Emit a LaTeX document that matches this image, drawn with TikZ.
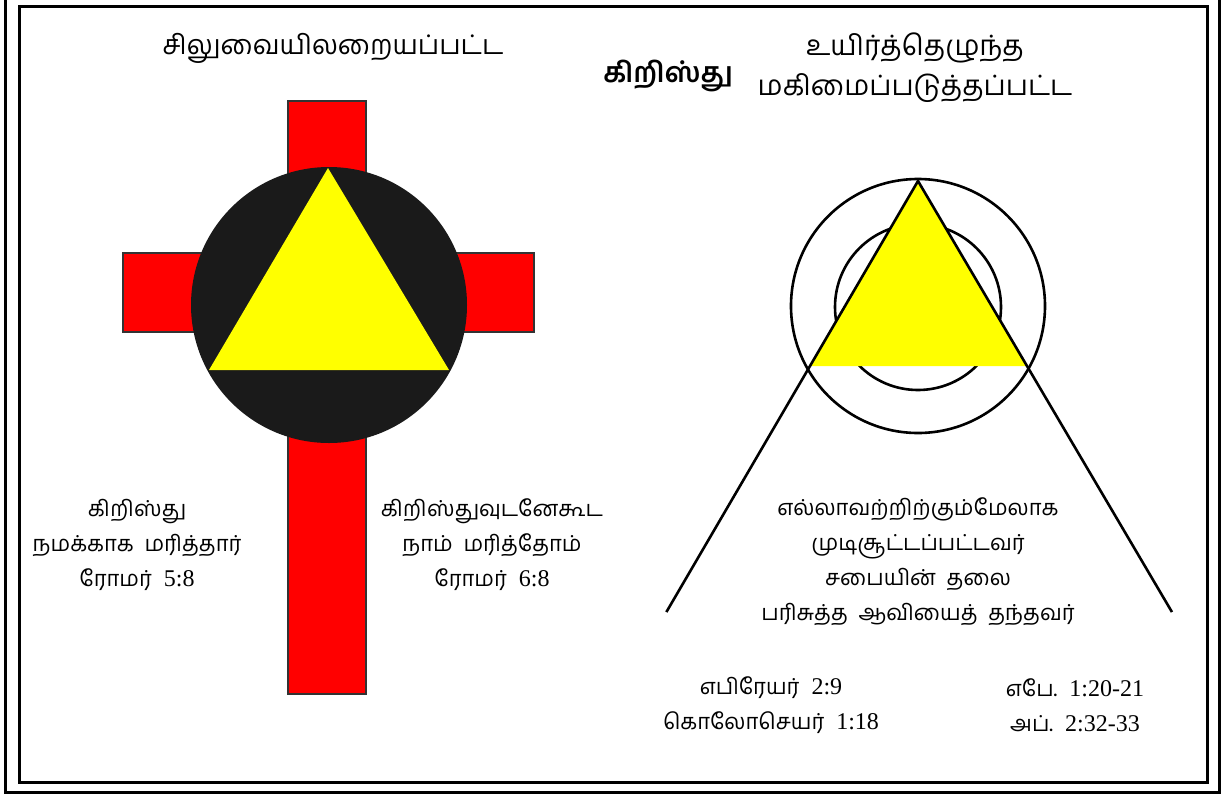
\documentclass[tikz,border=0pt]{standalone}
\usepackage{fontspec}
\setmainfont{Liberation Serif}
\newfontfamily\tamilfont[Script=Tamil]{Hind Madurai}
\usetikzlibrary{positioning, calc}
\definecolor{CrossRed}{RGB}{255, 0, 0}
\definecolor{GloryYellow}{RGB}{255, 255, 0}
\definecolor{DiscBlack}{RGB}{26, 26, 26}
\newcommand{\ta}[1]{{\tamilfont\fontsize{22}{35}\selectfont #1}}

\begin{document}
\begin{tikzpicture}[x=1pt,y=-1pt]
  \path[use as bounding box] (0,0) rectangle (1224,796);
  \tikzset{
    frameline/.style={black, line width=3pt},
    crossbar/.style={fill=CrossRed, draw=black!80, line width=1.2pt},
    ringline/.style={black, line width=2.6pt},
    verse/.style={align=center, font=\fontsize{24}{35}\selectfont},
    heading/.style={align=center, font=\tamilfont\fontsize{27}{40}\selectfont}
  }

  % frames
  \draw[frameline] (5,-6) rectangle (1219,792);
  \draw[frameline] (19,6) rectangle (1207,782);

  % headings
  \node[heading] (titleCross) at (333,48) {சிலுவையிலறையப்பட்ட};
  \node[heading, font=\tamilfont\fontsize{28}{40}\selectfont\bfseries] (titleChrist) at (668,76) {கிறிஸ்து};
  \node[heading, font=\tamilfont\fontsize{28}{40}\selectfont] (titleRisen) at (915,68) {உயிர்த்தெழுந்த\\மகிமைப்படுத்தப்பட்ட};

  % Crucified: cross, disc and triangle
  \draw[crossbar] (288,101) rectangle (366,694);
  \draw[crossbar] (123,253) rectangle (534,332);
  \fill[DiscBlack] (329,305) circle[radius=138];
  \coordinate (crossApex) at (328,168);
  \coordinate (crossBaseL) at (209,370);
  \coordinate (crossBaseR) at (449,370);
  \fill[GloryYellow] (crossApex) -- (crossBaseL) -- (crossBaseR) -- cycle;

  \node[verse] (diedForUs) at (137,545) {\ta{கிறிஸ்து}\\\ta{நமக்காக\ \ மரித்தார்}\\\ta{ரோமர்}\ \ 5:8};
  \node[verse] (diedWith) at (492,545) {\ta{கிறிஸ்துவுடனேகூட}\\\ta{நாம்\ \ மரித்தோம்}\\\ta{ரோமர்}\ \ 6:8};

  % Risen: rings and triangle
  \draw[ringline] (918,306) circle[radius=127];
  \draw[ringline] (918,307) circle[radius=83];
  \coordinate (riseApex) at (918,181);
  \coordinate (riseBaseL) at (810,366);
  \coordinate (riseBaseR) at (1027,366);
  \coordinate (riseFootL) at ($(riseApex)!2.33!(riseBaseL)$);
  \coordinate (riseFootR) at ($(riseApex)!2.33!(riseBaseR)$);
  \fill[GloryYellow] (riseApex) -- (riseBaseL) -- (riseBaseR) -- cycle;
  \draw[ringline] (riseFootL) -- (riseApex) -- (riseFootR);

  \node[verse] (crowned) at (918,562) {\ta{எல்லாவற்றிற்கும்மேலாக}\\\ta{முடிசூட்டப்பட்டவர்}\\\ta{சபையின்\ \ தலை}\\\ta{பரிசுத்த\ \ ஆவியைத்\ \ தந்தவர்}};

  \node[verse] (refsLeft) at (771,705) {\ta{எபிரேயர்}\ \ 2:9\\\ta{கொலோசெயர்}\ \ 1:18};
  \node[verse] (refsRight) at (1075,705) {\ta{எபே.}\ \ 1:20-21\\\ta{அப்.}\ \ 2:32-33};
\end{tikzpicture}
\end{document}
